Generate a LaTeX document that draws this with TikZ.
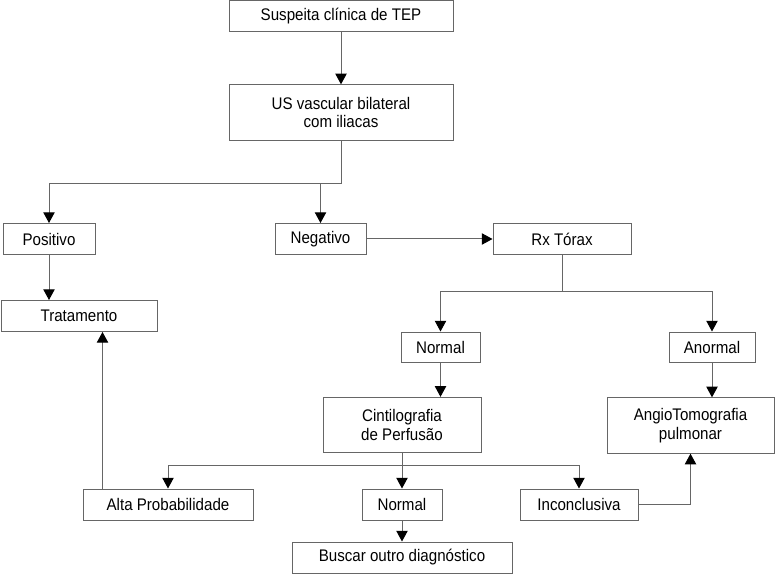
\documentclass[tikz,border=0pt]{standalone}
\usepackage{fontspec}
\setmainfont[FakeStretch=0.9]{Liberation Sans}
\usetikzlibrary{positioning,arrows.meta,calc}

\begin{document}
\begin{tikzpicture}[
    x=0.75pt, y=-0.75pt,
    box/.style={
      draw=black!60,
      line width=0.75pt,
      align=center,
      inner sep=0pt,
      minimum height=23.25pt,
      font=\fontsize{12.6}{14}\selectfont
    },
    tallbox/.style={
      box,
      minimum height=41.5pt
    },
    link/.style={draw=black!60, line width=0.75pt},
    arrow/.style={link, -{Triangle[length=8pt, width=8.5pt, color=black]}}
  ]
    \useasboundingbox (0,0) rectangle (775,574);

    \node[box, minimum width=168pt] (sus) at (341, 16.5) {Suspeita clínica de TEP};
    \node[tallbox, minimum width=168pt] (us) at (341, 112.5) {US vascular bilateral\\com iliacas};
    \draw[arrow] (sus) -- (us);

    \node[box, minimum width=69pt] (pos) at (49, 239) {Positivo};
    \node[box, minimum width=68.25pt] (neg) at (320.5, 239) {Negativo};
    \draw[link] (us.south) -- ++(0, 43) coordinate (j1);
    \draw[arrow] (j1) -| (pos.north);
    \draw[arrow] (j1) -| (neg.north);

    \node[box, minimum width=103.5pt] (rx) at (562, 239) {Rx Tórax};
    \draw[arrow] (neg) -- (rx);

    \node[box, minimum width=117pt] (trat) at (79, 316) {Tratamento};
    \draw[arrow] (pos.south) -- (pos.south |- trat.north);

    \node[box, minimum width=59.25pt, minimum height=22.5pt] (nor1) at (440.5, 347) {Normal};
    \node[box, minimum width=64.5pt, minimum height=22.5pt] (anor) at (712, 347) {Anormal};
    \draw[link] (rx.south) -- ++(0, 36.5) coordinate (j2);
    \draw[arrow] (j2) -| (nor1.north);
    \draw[arrow] (j2) -| (anor.north);

    \node[tallbox, minimum width=118.5pt] (cint) at (402, 425) {Cintilografia\\de Perfusão};
    \node[tallbox, minimum width=125.25pt] (angio) at (690.5, 425.5) {AngioTomografia\\pulmonar};
    \draw[arrow] (nor1.south) -- (nor1.south |- cint.north);
    \draw[arrow] (anor.south) -- (anor.south |- angio.north);

    \node[box, minimum width=127.5pt] (alta) at (168, 504.5) {Alta Probabilidade};
    \node[box, minimum width=60pt] (nor2) at (402, 504.5) {Normal};
    \node[box, minimum width=88.5pt] (inc) at (579, 504.5) {Inconclusiva};
    \draw[link] (cint.south) -- ++(0, 12) coordinate (j3);
    \draw[arrow] (j3) -| (alta.north);
    \draw[arrow] (j3) -- (nor2.north);
    \draw[arrow] (j3) -| (inc.north);

    \node[box, minimum width=165pt] (busc) at (402, 557.5) {Buscar outro diagnóstico};
    \draw[arrow] (nor2) -- (busc);

    \coordinate (a1) at ($(alta.north west)+(20, 0)$);
    \draw[arrow] (a1) -- (a1 |- trat.south);
    \draw[arrow] (inc.east) -| (angio.south);
  \end{tikzpicture}
\end{document}
